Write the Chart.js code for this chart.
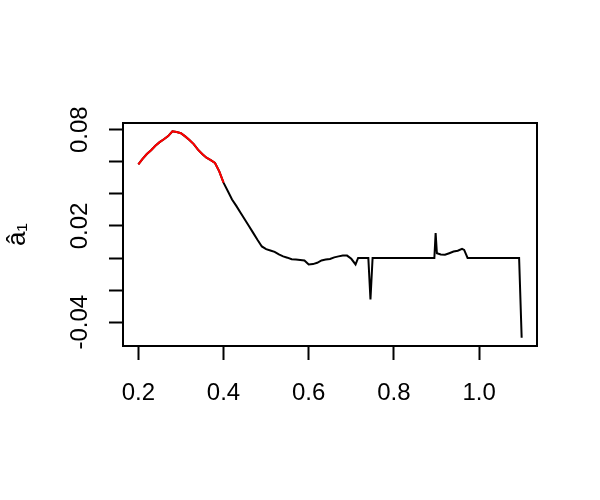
<!DOCTYPE html>
<html>
<head>
<meta charset="utf-8">
<script src="https://cdn.jsdelivr.net/npm/chart.js@4/dist/chart.umd.min.js"></script>
<style>
  html, body { margin: 0; padding: 0; background: #ffffff; }
  #wrap { width: 600px; height: 500px; }
</style>
</head>
<body>
<div id="wrap"><canvas id="chart" width="600" height="500"></canvas></div>
<script>
// valores
const xValues = [
  0.20, 0.21, 0.22, 0.23, 0.24, 0.25, 0.26, 0.27, 0.28, 0.29,
  0.30, 0.31, 0.32, 0.33, 0.34, 0.35, 0.36, 0.37, 0.38, 0.39,
  0.40, 0.41, 0.42, 0.43, 0.44, 0.45, 0.46, 0.47, 0.48, 0.49,
  0.50, 0.51, 0.52, 0.53, 0.54, 0.55, 0.56, 0.57, 0.58, 0.59,
  0.60, 0.61, 0.62, 0.63, 0.64, 0.65, 0.66, 0.67, 0.68, 0.69,
  0.70, 0.71, 0.716, 0.74, 0.745, 0.75,
  0.895, 0.898, 0.901, 0.91, 0.92, 0.93, 0.94, 0.95, 0.96, 0.965, 0.973,
  1.094, 1.100
];
const a1Values = [
  0.0583, 0.0618, 0.0648, 0.0672, 0.0700, 0.0722, 0.0740, 0.0760, 0.0790, 0.0785,
  0.0778, 0.0758, 0.0735, 0.0710, 0.0675, 0.0648, 0.0625, 0.0610, 0.0592, 0.0540,
  0.0470, 0.0418, 0.0365, 0.0325, 0.0282, 0.0240, 0.0198, 0.0155, 0.0112, 0.0072,
  0.0055, 0.0047, 0.0038, 0.0022, 0.0010, 0.0002, -0.0008, -0.0010, -0.0012, -0.0015,
  -0.0040, -0.0038, -0.0030, -0.0015, -0.0010, -0.0006, 0.0004, 0.0010, 0.0016, 0.0015,
  -0.0005, -0.0040, 0.0000, 0.0000, -0.0259, 0.0000,
  0.0000, 0.0155, 0.0030, 0.0022, 0.0020, 0.0030, 0.0040, 0.0045, 0.0057, 0.0050, 0.0000,
  0.0000, -0.0497
];
const redLimit = 0.40; // trecho em vermelho até aqui
const xTicks = [0.2, 0.4, 0.6, 0.8, 1.0];
const yTicks = [-0.04, -0.02, 0, 0.02, 0.04, 0.06, 0.08];
const yLabelled = [-0.04, 0.02, 0.08];

const allPoints = xValues.map((x, i) => ({ x: x, y: a1Values[i] }));
const redPoints = allPoints.filter(p => p.x <= redLimit);

// faixa estilo R (4% de folga)
function padRange(vals) {
  const lo = Math.min(...vals), hi = Math.max(...vals);
  const d = (hi - lo) * 0.04;
  return [lo - d, hi + d];
}
const [xMin, xMax] = padRange(xValues);
const [yMin, yMax] = padRange(a1Values);

const FONT = 'Liberation Sans, Arial, Helvetica, sans-serif';

// moldura em volta da área do gráfico
const boxPlugin = {
  id: 'box',
  afterDraw(chart) {
    const a = chart.chartArea;
    const ctx = chart.ctx;
    ctx.save();
    ctx.strokeStyle = '#000';
    ctx.lineWidth = 2;
    ctx.strokeRect(a.left, a.top, a.right - a.left, a.bottom - a.top);
    ctx.restore();
  }
};

new Chart(document.getElementById('chart'), {
  type: 'line',
  data: {
    datasets: [
      {
        data: redPoints,
        borderColor: '#FF0000',
        borderWidth: 2,
        pointRadius: 0,
        tension: 0,
        fill: false
      },
      {
        data: allPoints,
        borderColor: '#000000',
        borderWidth: 2,
        pointRadius: 0,
        tension: 0,
        fill: false
      }
    ]
  },
  options: {
    responsive: false,
    animation: false,
    devicePixelRatio: 1,
    layout: { padding: { left: 0, top: 123, right: 63, bottom: 0 } },
    plugins: {
      legend: { display: false },
      tooltip: { enabled: false }
    },
    scales: {
      x: {
        type: 'linear',
        min: xMin,
        max: xMax,
        afterBuildTicks: s => { s.ticks = xTicks.map(v => ({ value: v })); },
        afterFit: s => { s.height = 154; },
        grid: { drawOnChartArea: false, drawTicks: true, tickLength: 14, tickWidth: 2, tickColor: '#000' },
        border: { display: true, color: '#000', width: 2 },
        ticks: {
          color: '#000',
          padding: 19,
          maxRotation: 0,
          autoSkip: false,
          font: { family: FONT, size: 24 },
          callback: v => v.toFixed(1)
        }
      },
      y: {
        type: 'linear',
        min: yMin,
        max: yMax,
        afterBuildTicks: s => { s.ticks = yTicks.map(v => ({ value: v })); },
        afterFit: s => { s.width = 123; },
        grid: { drawOnChartArea: false, drawTicks: true, tickLength: 14, tickWidth: 2, tickColor: '#000' },
        border: { display: true, color: '#000', width: 2 },
        title: {
          display: true,
          text: 'a\u0302\u2081',
          color: '#000',
          font: { family: FONT, size: 26 },
          padding: { top: 2, bottom: 0 }
        },
        ticks: {
          color: '#000',
          padding: 1,
          minRotation: 90,
          maxRotation: 90,
          crossAlign: 'center',
          autoSkip: false,
          font: { family: FONT, size: 24 },
          callback: v => (yLabelled.includes(v) ? v.toFixed(2) : '')
        }
      }
    }
  },
  plugins: [boxPlugin]
});
</script>
</body>
</html>
